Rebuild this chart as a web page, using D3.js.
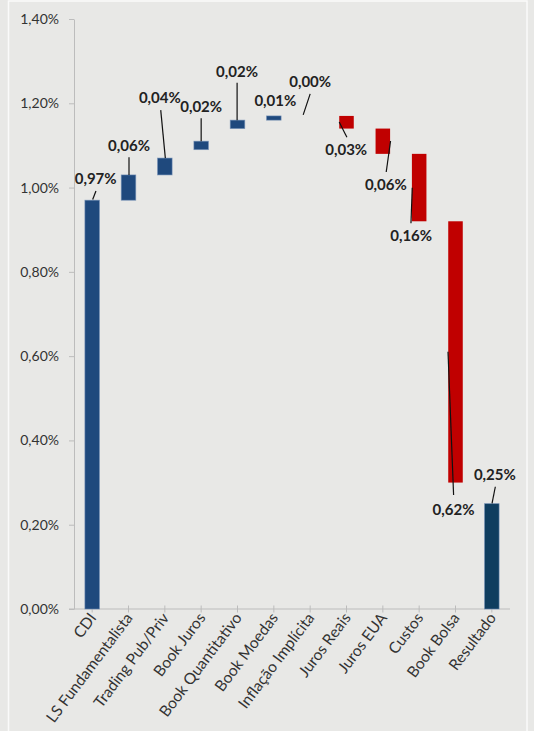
<!DOCTYPE html>
<html>
<head>
<meta charset="utf-8">
<script src="https://cdn.jsdelivr.net/npm/d3@7"></script>
<style>
  html, body { margin: 0; padding: 0; background: #e8e8e6; }
  svg { display: block; }
</style>
</head>
<body>
<svg id="main"></svg>
<script>
// categorias e valores (em %)
const categories = ["CDI", "LS Fundamentalista", "Trading Pub/Priv", "Book Juros", "Book Quantitativo",
    "Book Moedas", "Inflação Implícita", "Juros Reais", "Juros EUA", "Custos", "Book Bolsa", "Resultado"];
const barLow = [0, 0.97, 1.03, 1.09, 1.14, 1.16, 1.17, 1.14, 1.08, 0.92, 0.30, 0];
const barHigh = [0.97, 1.03, 1.07, 1.11, 1.16, 1.17, 1.17, 1.17, 1.14, 1.08, 0.92, 0.25];
const kind = ["total", "up", "up", "up", "up", "up", "up", "down", "down", "down", "down", "result"];
const labels = ["0,97%", "0,06%", "0,04%", "0,02%", "0,02%", "0,01%", "0,00%", "0,03%", "0,06%", "0,16%", "0,62%", "0,25%"];
const yTicks = [0, 0.2, 0.4, 0.6, 0.8, 1.0, 1.2, 1.4];

// rotulos arrastados manualmente no Excel: deslocamento (px) a partir do topo da barra
const labelPos = [[3.5, -21], [0.5, -29], [-5, -60], [0, -34.5], [-0.5, -48.5], [1.5, -15],
    [0, -33.7], [-0.3, 34], [3, 56.4], [-8, 82], [-2, 288.7], [3, -28.6]];
const leader = [[3.8, -9.3, 0.5, -0.7], [0.5, -17.7, 0.5, 0], [-4.1, -48, 0.5, 0], [0, -23, 0, 0],
    [-0.4, -37.5, -0.4, 0], null, [0, -22, -7, -1], [-7.3, 6, 0.4, 21.3], [7.7, 12.4, 3.4, 43.4],
    [-6.9, 33.8, -8.2, 69.4], [-7.5, 130.4, -1.9, 273.7], [3.5, -16.9, 0.2, -0.3]];

const colors = {total: "#1f497d", up: "#1f497d", down: "#c00000", result: "#0f3d5f"};

const width = 534, height = 731;
const svg = d3.select("#main").attr("width", width).attr("height", height);

svg.append("rect").attr("width", width).attr("height", height).attr("fill", "#e8e8e6");
// moldura branca
svg.append("rect").attr("x", 8.5).attr("y", 1).attr("width", 518.5).attr("height", height + 10)
    .attr("fill", "none").attr("stroke", "#fafafa").attr("stroke-width", 1.5);

const xScale = d3.scaleBand(categories, [74, 510]).paddingInner(0.6).paddingOuter(0.3);
const yScale = d3.scaleLinear([0, 1.4], [609, 19]);
const cx = i => xScale(categories[i]) + xScale.bandwidth() / 2;

// eixo y
const yAxis = svg.append("g")
    .attr("transform", "translate(74,0)")
    .call(d3.axisLeft(yScale).tickValues(yTicks).tickSize(5).tickSizeOuter(0).tickPadding(10)
        .tickFormat(d => d3.format(".2f")(d).replace(".", ",") + "%"));
yAxis.select(".domain").attr("stroke", "#bcbcbc");
yAxis.selectAll(".tick line").attr("stroke", "#bcbcbc");
yAxis.selectAll("text").attr("font-family", "Lato").attr("font-size", 14).attr("fill", "#333");

// eixo x
const xAxis = svg.append("g").attr("transform", "translate(0,609)");
xAxis.append("line").attr("x1", 69).attr("x2", 510).attr("stroke", "#bcbcbc");
xAxis.selectAll("line.tk").data(categories).join("line").attr("class", "tk")
    .attr("x1", (d, i) => cx(i)).attr("x2", (d, i) => cx(i))
    .attr("y1", -3.5).attr("y2", 3.5).attr("stroke", "#bcbcbc");
xAxis.selectAll("text").data(categories).join("text")
    .attr("transform", (d, i) => `translate(${cx(i) + 5},${9}) rotate(-53)`)
    .attr("text-anchor", "end")
    .attr("font-family", "Lato").attr("font-size", 15.5).attr("fill", "#333")
    .text(d => d);

// barras
svg.append("g").selectAll("rect").data(categories).join("rect")
    .attr("x", d => xScale(d))
    .attr("width", xScale.bandwidth())
    .attr("y", (d, i) => yScale(barHigh[i]))
    .attr("height", (d, i) => yScale(barLow[i]) - yScale(barHigh[i]))
    .attr("fill", (d, i) => colors[kind[i]])
    .attr("stroke", (d, i) => kind[i] === "down" ? "none" : "#6f8db5")
    .attr("stroke-width", 0.8)
    .attr("stroke-opacity", 0.7);

// linhas de chamada
svg.append("g").selectAll("line").data(categories.map((c, i) => i).filter(i => leader[i]))
    .join("line")
    .attr("x1", i => cx(i) + leader[i][0]).attr("y1", i => yScale(barHigh[i]) + leader[i][1])
    .attr("x2", i => cx(i) + leader[i][2]).attr("y2", i => yScale(barHigh[i]) + leader[i][3])
    .attr("stroke", "#111").attr("stroke-width", 1.2);

// rotulos
svg.append("g").selectAll("text").data(labels).join("text")
    .attr("x", (d, i) => cx(i) + labelPos[i][0])
    .attr("y", (d, i) => yScale(barHigh[i]) + labelPos[i][1])
    .attr("dy", "0.35em")
    .attr("text-anchor", "middle")
    .attr("font-family", "Lato").attr("font-weight", "bold").attr("font-size", 15)
    .attr("fill", "#222")
    .text(d => d);
</script>
</body>
</html>
